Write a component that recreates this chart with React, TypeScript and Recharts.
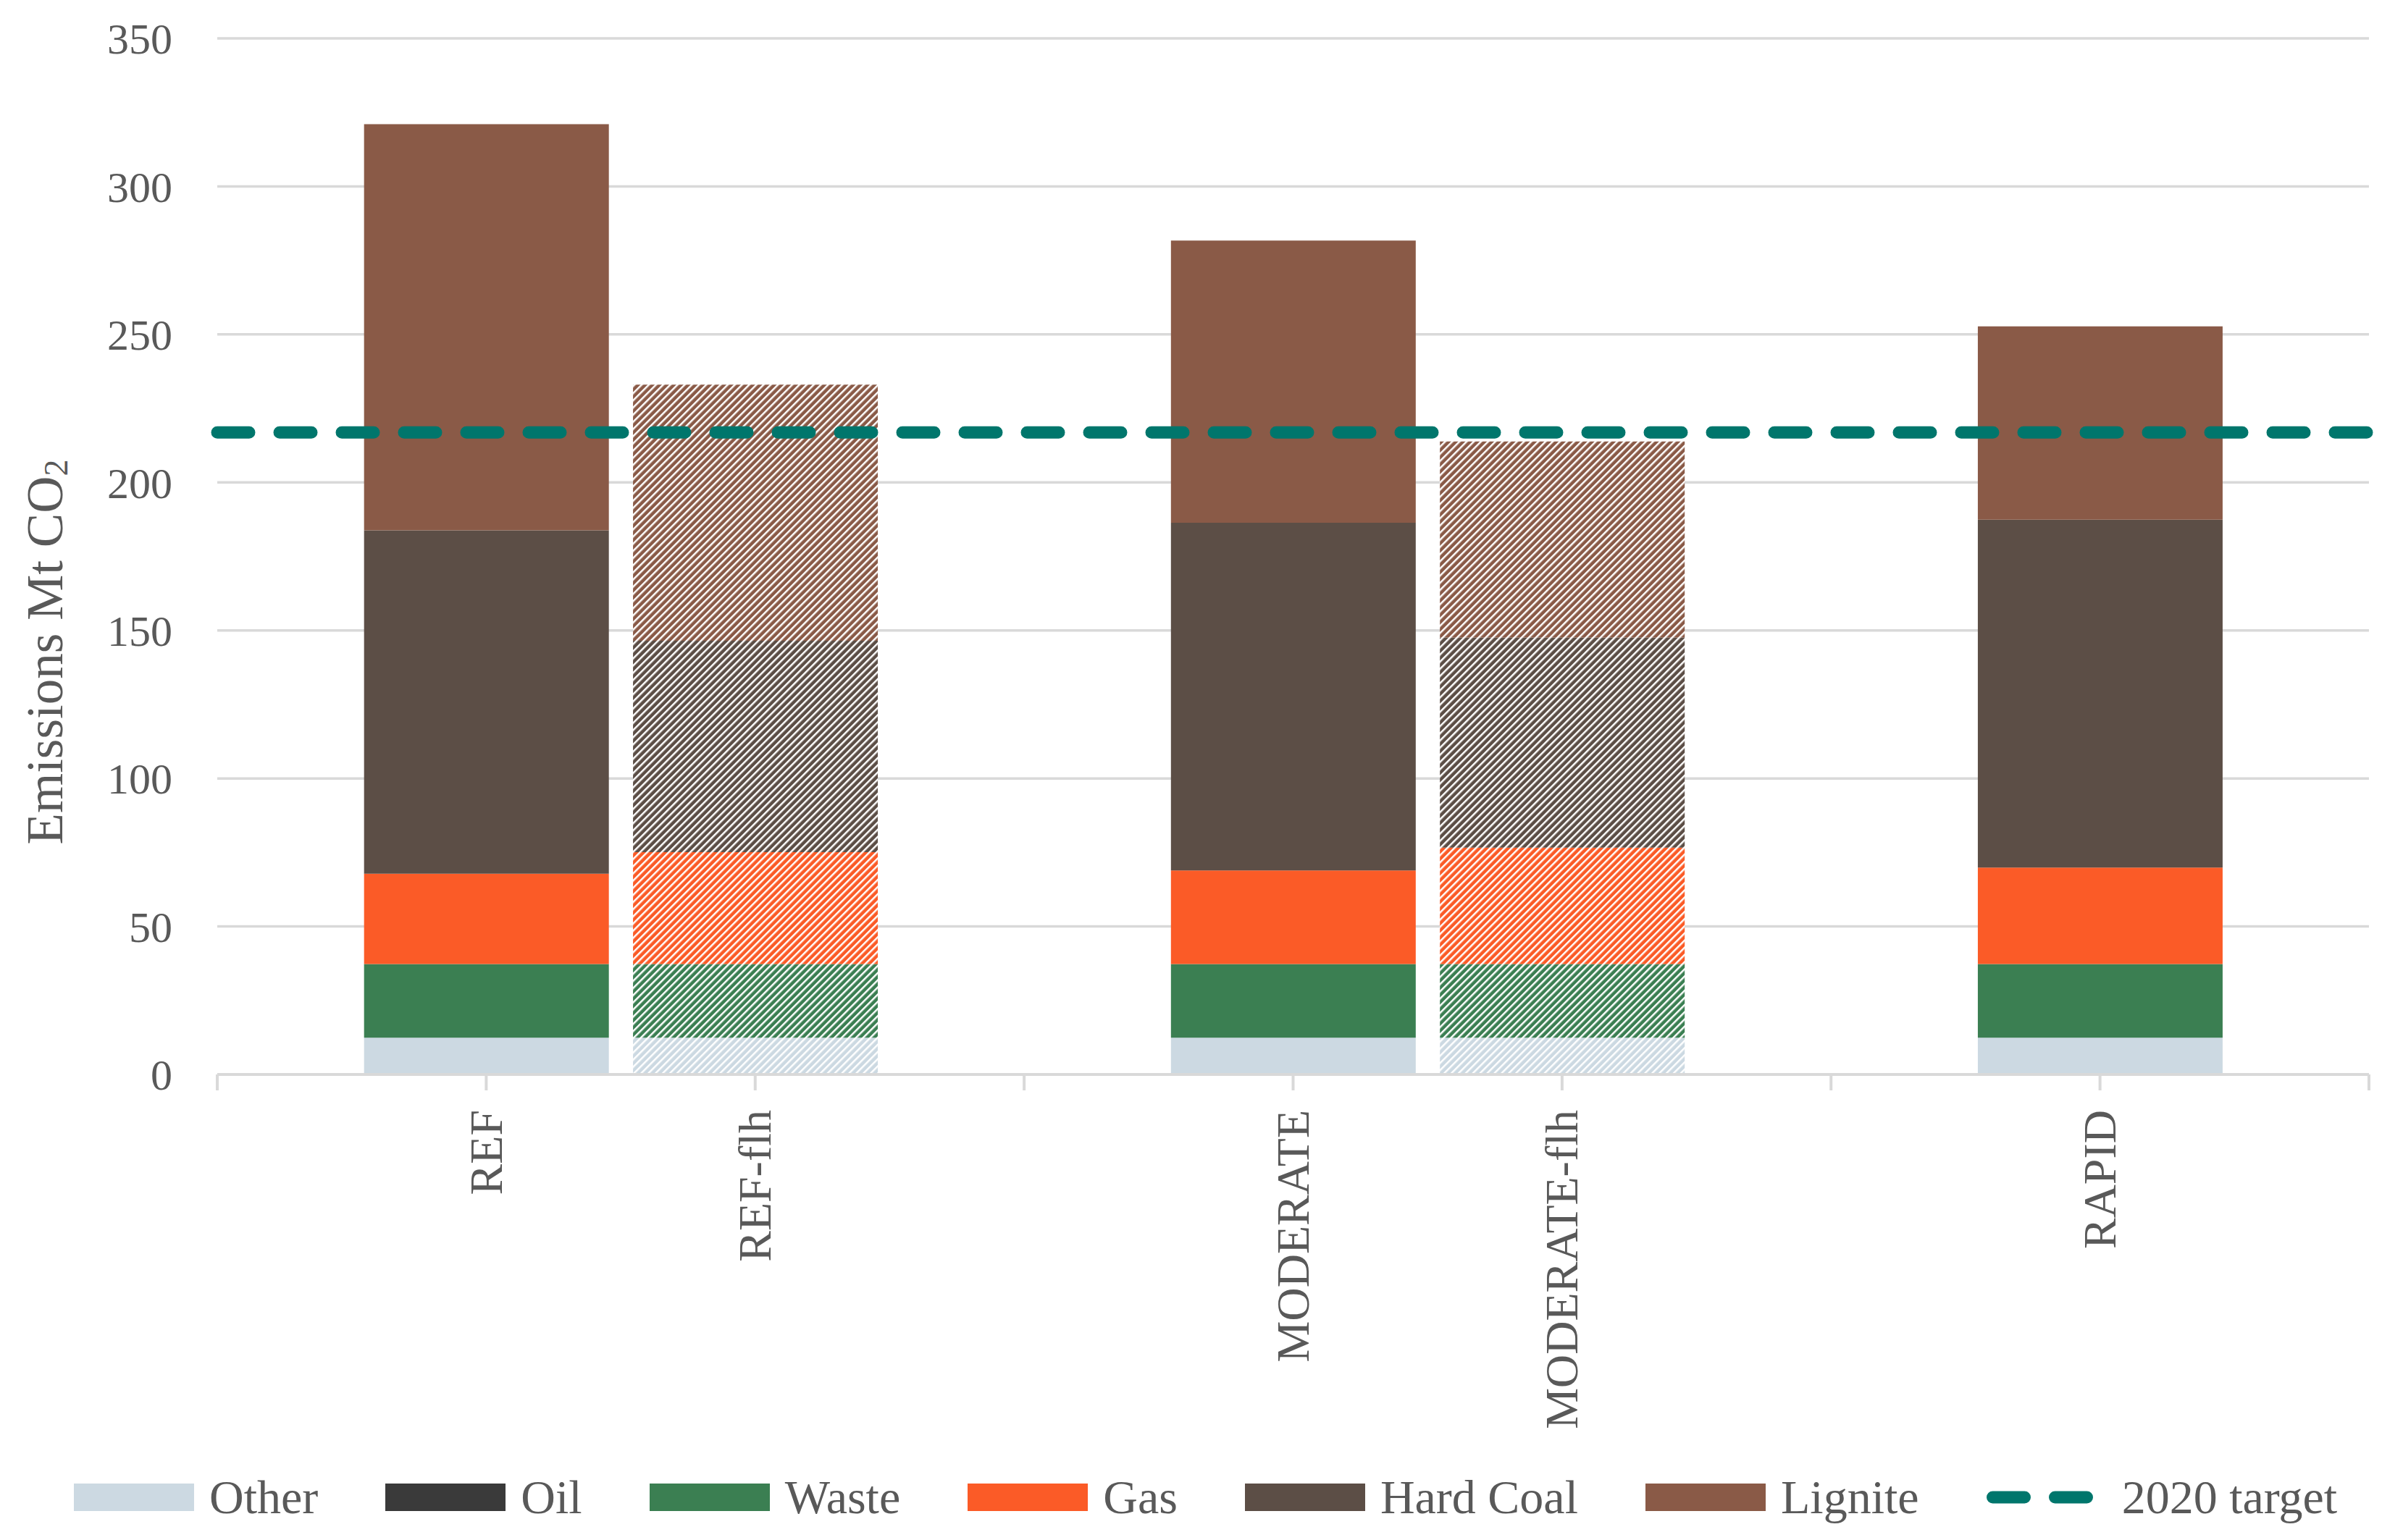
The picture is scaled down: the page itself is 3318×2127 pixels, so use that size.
import React from "react";
import {
  ComposedChart,
  Bar,
  XAxis,
  YAxis,
  CartesianGrid,
  ReferenceLine,
  Cell,
  Label,
} from "recharts";

// ---- data ----
const categories = ["", "REF", "REF-flh", "", "MODERATE", "MODERATE-flh", "", "RAPID", ""];
const isFlh = [false, false, true, false, false, true, false, false, false];

const other = [null, 12.4, 12.4, null, 12.4, 12.4, null, 12.4, null];
const oil = [null, 0, 0, null, 0, 0, null, 0, null];
const waste = [null, 24.9, 24.9, null, 24.9, 24.9, null, 24.9, null];
const gas = [null, 30.5, 37.8, null, 31.6, 39.3, null, 32.6, null];
const hardCoal = [null, 116.0, 71.4, null, 117.5, 71.0, null, 117.5, null];
const lignite = [null, 137.2, 86.5, null, 95.3, 66.2, null, 65.3, null];

const target2020 = 216.9;
const targetName = "2020 target";

const yTicks = [0, 50, 100, 150, 200, 250, 300, 350];

const seriesKeys = ["other", "oil", "waste", "gas", "hardCoal", "lignite"];
const seriesNames = ["Other", "Oil", "Waste", "Gas", "Hard Coal", "Lignite"];
const seriesColors = ["#ccd9e2", "#3a3a3a", "#3b7f52", "#fb5b27", "#5c4e46", "#8a5a47"];
const seriesValues = [other, oil, waste, gas, hardCoal, lignite];

const yAxisTitle = "Emissions Mt CO";
const yAxisTitleSub = "2";

const TEXT = "#595959";
const GRID = "#d9d9d9";
const TARGET = "#00766c";
const FONT = "'Liberation Serif', 'Times New Roman', serif";

const data = categories.map((c, i) => {
  const row: any = { pos: i, name: c, flh: isFlh[i] };
  seriesKeys.forEach((k, s) => {
    row[k] = seriesValues[s][i];
  });
  return row;
});

const xTicks = categories.map((_, i) => i);

const XTick = (props: any) => {
  const { x, y, payload } = props;
  const label = categories[payload.value] ?? "";
  if (!label) return <g />;
  const ty = y + 27;
  return (
    <text
      x={x}
      y={ty}
      transform={`rotate(-90, ${x}, ${ty})`}
      textAnchor="end"
      dominantBaseline="central"
      fill={TEXT}
      fontSize={64}
      fontFamily={FONT}
    >
      {label}
    </text>
  );
};

const YTitle = (props: any) => {
  const { viewBox } = props;
  const cx = viewBox.x + 62;
  const cy = viewBox.y + viewBox.height / 2 + 132;
  return (
    <text
      x={cx}
      y={cy}
      transform={`rotate(-90, ${cx}, ${cy})`}
      textAnchor="middle"
      dominantBaseline="central"
      fill={TEXT}
      fontSize={71}
      fontFamily={FONT}
    >
      {yAxisTitle}
      <tspan fontSize={46} dy={15}>
        {yAxisTitleSub}
      </tspan>
    </text>
  );
};

export default function App() {
  return (
    <div
      style={{
        position: "absolute",
        left: 0,
        top: 0,
        width: 3318,
        height: 2127,
        background: "#ffffff",
        overflow: "hidden",
      }}
    >
      <ComposedChart
        width={3318}
        height={2127}
        data={data}
        margin={{ top: 53, right: 47, bottom: 43, left: 0 }}
      >
        <defs>
          {seriesKeys.map((k, s) => (
            <pattern
              key={k}
              id={`hatch-${k}`}
              patternUnits="userSpaceOnUse"
              width={7}
              height={7}
              patternTransform="rotate(45)"
            >
              <rect x={0} y={0} width={7} height={7} fill={seriesColors[s]} />
              <rect x={0} y={0} width={2.5} height={7} fill="#ffffff" />
            </pattern>
          ))}
        </defs>
        <CartesianGrid vertical={false} stroke={GRID} strokeWidth={3.5} />
        <XAxis
          type="number"
          dataKey="pos"
          domain={[0, categories.length - 1]}
          ticks={xTicks}
          interval={0}
          tickSize={22}
          tickMargin={0}
          tick={<XTick />}
          axisLine={{ stroke: GRID, strokeWidth: 4 }}
          tickLine={{ stroke: GRID, strokeWidth: 4 }}
          height={600}
        />
        <YAxis
          type="number"
          domain={[0, 350]}
          ticks={yTicks}
          width={300}
          axisLine={false}
          tickLine={false}
          tickSize={0}
          tickMargin={62}
          tick={{ fill: TEXT, fontSize: 60, fontFamily: FONT }}
        >
          <Label content={<YTitle />} />
        </YAxis>
        {seriesKeys.map((k, s) => (
          <Bar
            key={k}
            dataKey={k}
            name={seriesNames[s]}
            stackId="a"
            barSize={338}
            fill={seriesColors[s]}
            isAnimationActive={false}
          >
            {data.map((row, i) => (
              <Cell key={i} fill={row.flh ? `url(#hatch-${k})` : seriesColors[s]} />
            ))}
          </Bar>
        ))}
        <ReferenceLine
          y={target2020}
          stroke={TARGET}
          strokeWidth={17}
          strokeDasharray="44 42"
          strokeLinecap="round"
        />
      </ComposedChart>

      <div
        style={{
          position: "absolute",
          left: 102,
          top: 2030,
          height: 76,
          display: "flex",
          alignItems: "center",
          fontFamily: FONT,
          fontSize: 66,
          color: TEXT,
          whiteSpace: "nowrap",
        }}
      >
        {seriesNames.map((n, s) => (
          <div key={n} style={{ display: "flex", alignItems: "center", marginRight: 93 }}>
            <div style={{ width: 166, height: 38, background: seriesColors[s], marginRight: 21 }} />
            <span style={{ lineHeight: 1 }}>{n}</span>
          </div>
        ))}
        <div style={{ display: "flex", alignItems: "center" }}>
          <svg width={166} height={38} style={{ marginRight: 21 }}>
            <line
              x1={8.5}
              y1={19}
              x2={157.5}
              y2={19}
              stroke={TARGET}
              strokeWidth={17}
              strokeLinecap="round"
              strokeDasharray="44 42"
            />
          </svg>
          <span style={{ lineHeight: 1 }}>{targetName}</span>
        </div>
      </div>
    </div>
  );
}
